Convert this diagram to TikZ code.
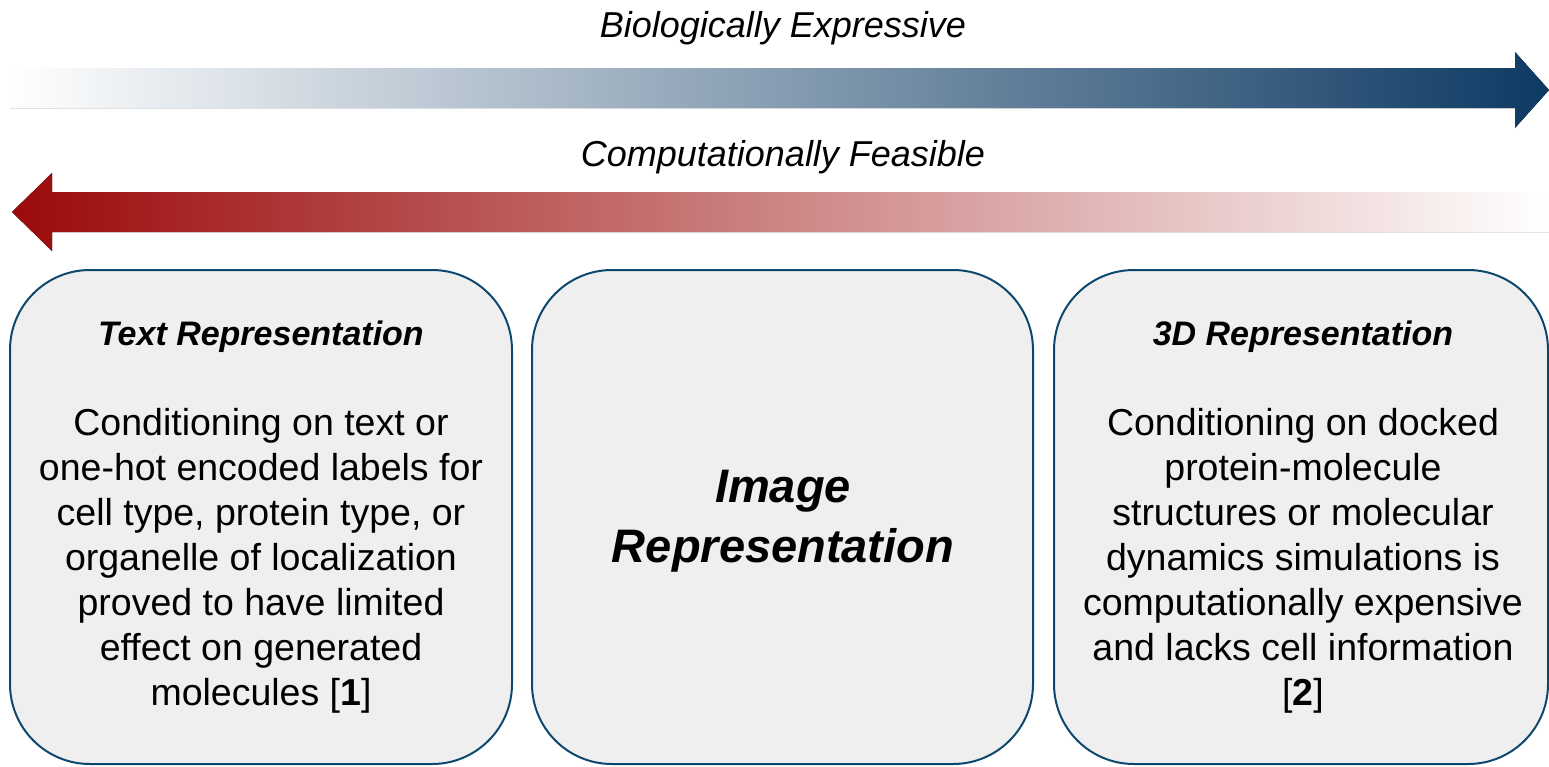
\documentclass[tikz,border=0pt]{standalone}
\usepackage{fontspec}
\setmainfont{Liberation Sans}
\definecolor{navy}{RGB}{13,58,99}
\definecolor{darkred}{RGB}{155,10,10}
\definecolor{boxline}{RGB}{14,72,110}
\definecolor{boxfill}{RGB}{239,239,239}
\tikzset{
  panel/.style={draw=boxline, line width=2pt, fill=boxfill, rounded corners=80pt,
    minimum height=494pt, inner sep=0pt},
  axislabel/.style={font=\fontsize{36}{40}\selectfont\itshape, inner sep=0pt},
  paneltitle/.style={font=\fontsize{34}{40}\selectfont\bfseries\itshape, inner sep=0pt},
  panelbody/.style={font=\fontsize{37.5}{45}\selectfont, align=center, inner sep=0pt},
  bigtitle/.style={font=\fontsize{47}{60}\selectfont\bfseries\itshape, align=center, inner sep=0pt},
}
\begin{document}
\begin{tikzpicture}[x=1pt,y=-1pt]
\useasboundingbox (0,0) rectangle (1549,766);
% arrows
\fill[left color=white, right color=navy]
  (10,68) -- (1515,68) -- (1515,52) -- (1549,90) -- (1515,128) -- (1515,108) -- (10,108) -- cycle;
\fill[left color=darkred, right color=white]
  (1549,192) -- (52,192) -- (52,173) -- (12,212) -- (52,251) -- (52,232) -- (1549,232) -- cycle;
\node[axislabel] (bio) at (783,28) {Biologically Expressive};
\node[axislabel] (comp) at (783,157) {Computationally Feasible};
% panels
\node[panel, minimum width=502pt] (p1) at (261,517) {};
\node[panel, minimum width=501pt] (p2) at (782.5,517) {};
\node[panel, minimum width=494pt] (p3) at (1301,517) {};
\node[paneltitle] (t1) at (261,337) {Text Representation};
\node[paneltitle] (t3) at (1303,337) {3D Representation};
\node[panelbody] (b1) at (261,561) {Conditioning on text or\\one-hot encoded labels for\\cell type, protein type, or\\organelle of localization\\proved to have limited\\effect on generated\\molecules [\textbf{1}]};
\node[bigtitle] (t2) at (783,521) {Image\\Representation};
\node[panelbody] (b3) at (1303,561) {Conditioning on docked\\protein-molecule\\structures or molecular\\dynamics simulations is\\computationally expensive\\and lacks cell information\\{}[\textbf{2}]};
\end{tikzpicture}
\end{document}
